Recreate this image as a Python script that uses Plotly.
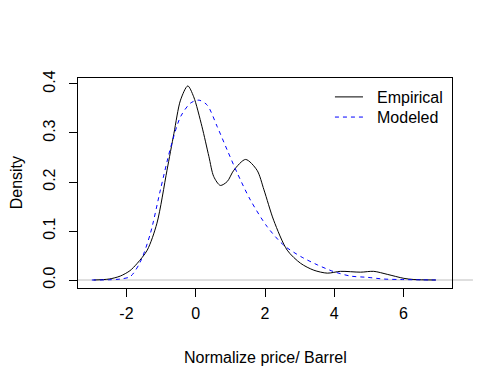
import plotly.graph_objects as go

# Density curves
emp_x = [-2.95, -2.5, -2.18, -1.9, -1.69, -1.4, -1.12, -0.83, -0.63, -0.44, -0.23, -0.06, 0.18, 0.38, 0.52, 0.71,
         0.91, 1.10, 1.44, 1.77, 1.97, 2.25, 2.64, 3.03, 3.41, 3.80, 4.18, 4.76, 5.14, 5.53, 6.01, 6.30, 6.93]
emp_y = [0.0, 0.002, 0.008, 0.019, 0.034, 0.061, 0.116, 0.224, 0.299, 0.367, 0.396, 0.374, 0.313, 0.252, 0.211, 0.193,
         0.201, 0.224, 0.246, 0.224, 0.184, 0.122, 0.061, 0.034, 0.020, 0.014, 0.0177, 0.016, 0.0177, 0.0116, 0.0034, 0.001, 0.0]

mod_x = [-3.0, -2.5, -2.18, -1.89, -1.60, -1.31, -1.02, -0.73, -0.44, -0.15, 0.09, 0.33, 0.62, 0.91, 1.20, 1.58,
         2.06, 2.54, 3.03, 3.51, 3.99, 4.47, 4.95, 5.43, 5.92, 6.5, 7.0]
mod_y = [0.0, 0.0005, 0.002, 0.007, 0.037, 0.095, 0.184, 0.269, 0.333, 0.361, 0.367, 0.357, 0.313, 0.265, 0.218, 0.163,
         0.109, 0.071, 0.048, 0.031, 0.017, 0.008, 0.0055, 0.002, 0.001, 0.0003, 0.0]

x_ticks = [-2, 0, 2, 4, 6]
x_labels = ["-2", "0", "2", "4", "6"]
y_ticks = [0.0, 0.1, 0.2, 0.3, 0.4]
y_labels = ["0.0", "0.1", "0.2", "0.3", "0.4"]

FONT = "Liberation Sans, Arial, sans-serif"

fig = go.Figure()
fig.add_trace(go.Scatter(x=emp_x, y=emp_y, mode="lines", name="Empirical", showlegend=False,
                         line=dict(color="black", width=1, shape="spline", smoothing=0.8)))
fig.add_trace(go.Scatter(x=mod_x, y=mod_y, mode="lines", name="Modeled", showlegend=False,
                         line=dict(color="blue", width=1, dash="4px,4px", shape="spline", smoothing=0.8)))

# gray zero line (R density plot style)
fig.add_shape(type="line", xref="paper", yref="y", x0=0, x1=1.056, y0=0, y1=0,
              line=dict(color="#BEBEBE", width=1), layer="below")

# legend drawn like R's legend(bty="n")
fig.add_shape(type="line", xref="paper", yref="paper", x0=0.687, x1=0.762, y0=0.910, y1=0.910,
              line=dict(color="black", width=1))
fig.add_shape(type="line", xref="paper", yref="paper", x0=0.687, x1=0.762, y0=0.814, y1=0.814,
              line=dict(color="blue", width=1, dash="4px,4px"))

fig.update_layout(
    width=484, height=378,
    margin=dict(l=70, r=40, t=70, b=98),
    plot_bgcolor="white", paper_bgcolor="white",
    font=dict(family=FONT, size=16, color="black"),
    showlegend=False,
    annotations=[
        dict(text="Empirical", xref="paper", yref="paper", x=0.795, y=0.905,
             xanchor="left", yanchor="middle", showarrow=False, font=dict(size=16)),
        dict(text="Modeled", xref="paper", yref="paper", x=0.795, y=0.812,
             xanchor="left", yanchor="middle", showarrow=False, font=dict(size=16)),
        dict(text="Normalize price/ Barrel", xref="paper", yref="paper", x=0.5, y=-0.33,
             xanchor="center", yanchor="middle", showarrow=False, font=dict(size=16)),
        dict(text="Density", xref="paper", yref="paper", x=-0.165, y=0.5, textangle=-90,
             xanchor="center", yanchor="middle", showarrow=False, borderpad=0, font=dict(size=16)),
    ],
)
fig.update_xaxes(range=[-3.4, 7.4], tickvals=x_ticks, ticktext=x_labels, ticks="outside", ticklen=8,
                 tickcolor="black", ticklabelstandoff=3,
                 showline=True, linecolor="black", linewidth=1, mirror=True, showgrid=False, zeroline=False)
fig.update_yaxes(range=[-0.0163, 0.4122], tickvals=y_ticks, ticktext=y_labels,
                 tickangle=-90, ticks="outside", ticklen=8, tickcolor="black", ticklabelstandoff=8,
                 showline=True, linecolor="black", linewidth=1, mirror=True, showgrid=False, zeroline=False)

fig.write_html("out.html")
